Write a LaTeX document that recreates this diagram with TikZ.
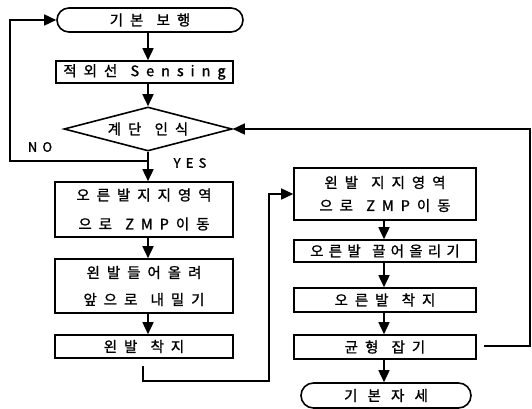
\documentclass[tikz,border=0pt]{standalone}
\usepackage{fontspec}
\setmainfont{Noto Sans CJK KR}
\usetikzlibrary{arrows.meta,shapes.geometric,shapes.misc}
\newcommand{\lspc}[1]{\addfontfeature{LetterSpace=#1,FakeBold=1.2}}
\newcommand{\wg}{\hspace{3pt}}
\tikzset{
  base/.style={draw=black, line width=1.6pt, inner sep=0pt, align=center,
    font=\fontsize{14.5}{17}\selectfont\lspc{48}},
  procbox/.style={base, rectangle, minimum width=#1},
  procbox/.default=178pt,
  termshape/.style={base, rounded rectangle},
  decide/.style={base, diamond, aspect=3.8},
  conn/.style={line width=1.6pt},
  arr/.style={conn, -{Triangle[length=12pt,width=11pt]}},
  lbl/.style={font=\fontsize{13}{15}\selectfont\lspc{40}, inner sep=0pt}
}
\begin{document}
\begin{tikzpicture}[x=1pt,y=-1pt]
\useasboundingbox (0,0) rectangle (532,409);
% columns
\coordinate (L) at (148,0);
\coordinate (R) at (384,0);
% left column
\node[termshape, minimum width=186pt, minimum height=24pt] (t1) at (150,20) {기본 \wg 보행};
\node[procbox=177pt, minimum height=22pt] (s1) at (144.5,72) {적외선 \wg Sensing};
\node[decide, minimum width=168pt, minimum height=44pt] (d1) at (148,129) {계단 \wg 인식};
\node[lbl] (no) at (40,147) {NO};
\node[lbl] (yes) at (190,163) {YES};
\node[procbox, minimum height=55pt] (b2) at (144,209.5) {오른발지지영역\\[12pt]으로 \wg ZMP이동};
\node[procbox, minimum height=54pt] (b3) at (144,286) {왼발들어올려\\[10pt]앞으로 \wg 내밀기};
\node[procbox, minimum height=23pt] (b4) at (144,346.5) {왼발 \wg 착지};
% right column
\node[procbox=182pt, minimum height=52pt] (b5) at (385,194) {왼발 \wg 지지영역\\[6pt]으로 \wg ZMP이동};
\node[procbox=182pt, minimum height=22pt, font=\fontsize{14.5}{17}\selectfont\lspc{36}] (b6) at (385,251) {오른발 \wg 끌어올리기};
\node[procbox=182pt, minimum height=24pt] (b7) at (385,300) {오른발 \wg 착지};
\node[procbox=182pt, minimum height=24pt] (b8) at (385,347) {균형 \wg 잡기};
\node[termshape, minimum width=170pt, minimum height=25pt, font=\fontsize{14.5}{17}\selectfont\lspc{70}] (t2) at (386,395.5) {기본자세};
% connector points
\coordinate (split) at (148,161);
\coordinate (nocorner) at (10,161);
\coordinate (b4out) at (143,366);
\coordinate (c1) at (143,381);
\coordinate (c2) at (269,381);
\coordinate (b8out) at (484,346);
\coordinate (c3) at (530,346);
% connectors left
\draw[arr] (t1.south -| L) -- (s1.north -| L);
\draw[arr] (s1.south -| L) -- (d1.north);
\draw[conn] (d1.south) -- (split);
\draw[arr] (split) -- (b2.north -| L);
\draw[arr] (split) -- (nocorner) |- (t1.west);
\draw[arr] (b2.south -| L) -- (b3.north -| L);
\draw[arr] (b3.south -| L) -- (b4.north -| L);
\draw[arr] (b4out) -- (c1) -- (c2) |- (b5.west);
% connectors right
\draw[arr] (b5.south -| R) -- (b6.north -| R);
\draw[arr] (b6.south -| R) -- (b7.north -| R);
\draw[arr] (b7.south -| R) -- (b8.north -| R);
\draw[arr] (b8.south -| R) -- (t2.north -| R);
\draw[arr] (b8out) -- (c3) |- (d1.east);
\end{tikzpicture}
\end{document}
